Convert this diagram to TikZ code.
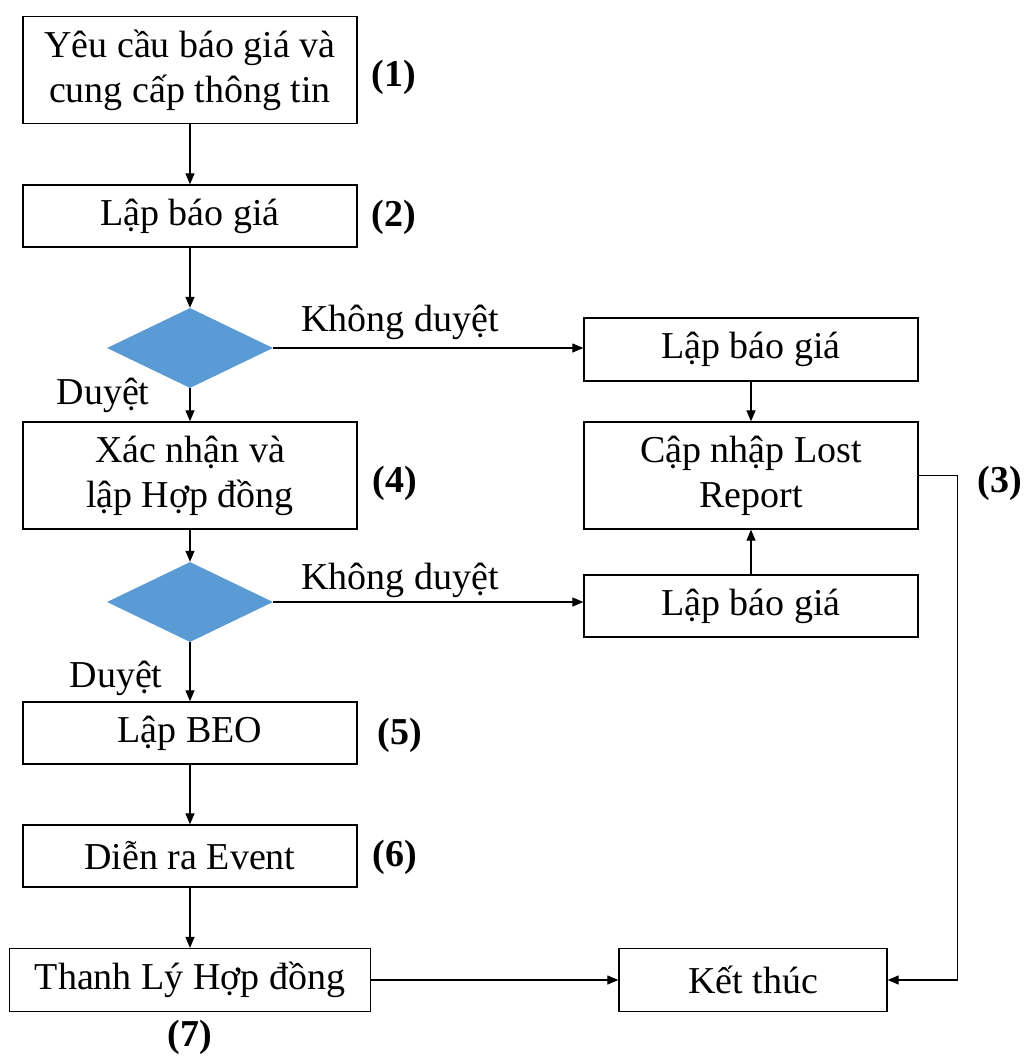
\documentclass[tikz,border=0pt]{standalone}
\usepackage{fontspec}
\setmainfont{Liberation Serif}
\usetikzlibrary{shapes.geometric,arrows.meta}
\definecolor{decisionblue}{HTML}{5B9BD5}

\begin{document}
\begin{tikzpicture}[x=1pt, y=-1pt,
        font=\fontsize{38}{45}\selectfont,
        stepbox/.style={draw, line width=1.3pt, inner sep=0pt, align=center, minimum width=334pt, minimum height=62pt},
        decision/.style={diamond, fill=decisionblue, inner sep=0pt, minimum width=166pt, minimum height=80pt},
        stepnum/.style={font=\fontsize{38}{45}\selectfont\bfseries},
        flow/.style={line width=1.2pt, -{Triangle[length=11pt, width=9pt]}}]
        \useasboundingbox (0,0) rectangle (1025,1058);

        % Main column
        \node[stepbox, minimum height=107pt] (S1) at (190,70) {Yêu cầu báo giá và\\cung cấp thông tin};
        \node[stepbox] (S2) at (190,216) {Lập báo giá};
        \node[decision] (D1) at (190,348) {};
        \node[stepbox, minimum height=107pt] (S4) at (190,475.5) {Xác nhận và\\lập Hợp đồng};
        \node[decision] (D2) at (190,602) {};
        \node[stepbox] (S5) at (190,733) {Lập BEO};
        \node[stepbox] (S6) at (190,856) {Diễn ra Event};
        \node[stepbox, minimum width=361pt, minimum height=63pt] (S7) at (190,980) {Thanh Lý Hợp đồng};

        % Right column
        \node[stepbox, minimum height=63pt] (R1) at (751,349.5) {Lập báo giá};
        \node[stepbox, minimum height=107pt] (R2) at (751,475.5) {Cập nhập Lost\\Report};
        \node[stepbox] (R3) at (751,606) {Lập báo giá};
        \node[stepbox, minimum width=268pt, minimum height=63pt] (E) at (753,980) {Kết thúc};

        % Step numbers
        \node[stepnum] (N1) at (394,77) {(1)};
        \node[stepnum] (N2) at (394,217) {(2)};
        \node[stepnum] (N3) at (1000,483) {(3)};
        \node[stepnum] (N4) at (395,483) {(4)};
        \node[stepnum] (N5) at (400,735) {(5)};
        \node[stepnum] (N6) at (395,857) {(6)};
        \node[stepnum] (N7) at (190,1037) {(7)};

        % Branch labels
        \node (K1) at (400,322) {Không duyệt};
        \node (K2) at (400,580) {Không duyệt};
        \node (A1) at (103,395) {Duyệt};
        \node (A2) at (116,678) {Duyệt};

        % Connectors
        \draw[flow] (S1) -- (S2);
        \draw[flow] (S2) -- (D1);
        \draw[flow] (D1) -- (S4);
        \draw[flow] (S4) -- (D2);
        \draw[flow] (D2) -- (S5);
        \draw[flow] (S5) -- (S6);
        \draw[flow] (S6) -- (S7);
        \draw[flow] (D1) -- (D1 -| R1.west);
        \draw[flow] (R1) -- (R2);
        \draw[flow] (D2) -- (D2 -| R3.west);
        \draw[flow] (R3) -- (R2);
        \draw[flow] (S7) -- (E);
        \draw[flow] (R2.east) -- ++(39,0) |- (E.east);
    \end{tikzpicture}
\end{document}
